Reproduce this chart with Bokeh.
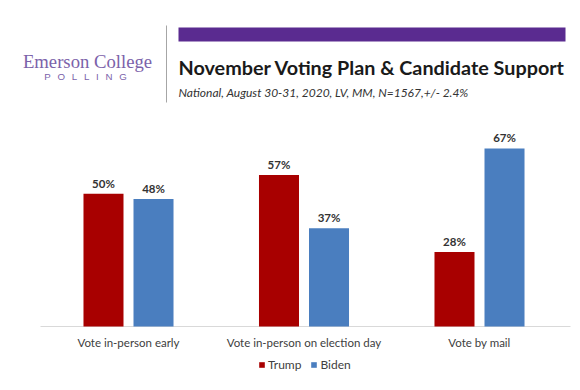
from bokeh.plotting import figure
from bokeh.models import (ColumnDataSource, Range1d, LabelSet, Label,
                          Legend, LegendItem, BoxAnnotation, Arrow)
from bokeh.core.properties import value
from bokeh.embed import file_html
from bokeh.resources import INLINE

# ---- data ----
categories = ["Vote in-person early", "Vote in-person on election day", "Vote by mail"]
trump = [50, 57, 28]
biden = [48, 37, 67]
series_names = ["Trump", "Biden"]

TRUMP_C = "#a80000"
BIDEN_C = "#4a7ebf"
FONT = "Lato"

W, H = 572, 382
GROUP_PX = 175.5      # pixels per category
FIRST_PX = 128        # canvas x of first category centre
PCT_PX = 2.657        # pixels per percentage point
BASE_PX = 326         # canvas y of the baseline

off = 0.1425
bw = 0.228
xc = [i + 0.5 for i in range(len(categories))]

src = ColumnDataSource(dict(
    xc=xc,
    cat=categories,
    zero=[0] * len(categories),
    xt=[x - off for x in xc],
    xb=[x + off for x in xc],
    trump=trump,
    biden=biden,
    trump_lbl=[f"{v}%" for v in trump],
    biden_lbl=[f"{v}%" for v in biden],
))

x0 = 0.5 - FIRST_PX / GROUP_PX
y_top = BASE_PX / PCT_PX
y_bot = -(H - BASE_PX) / PCT_PX
p = figure(width=W, height=H, x_range=Range1d(x0, x0 + W / GROUP_PX),
           y_range=Range1d(y_bot, y_top), toolbar_location=None, output_backend="svg",
           x_axis_location=None, y_axis_location=None, min_border=0)
p.outline_line_color = None
p.xgrid.visible = False
p.ygrid.visible = False
p.background_fill_color = "white"

# pixel-like coordinate system for the header (canvas coords, y down)
p.extra_x_ranges = {"px": Range1d(0, W)}
p.extra_y_ranges = {"px": Range1d(start=H, end=0)}

# ---- header ----
p.add_layout(BoxAnnotation(left=178, right=565, top=27, bottom=41, fill_color="#5a2b90",
                           fill_alpha=1, line_color=None,
                           x_range_name="px", y_range_name="px"))
p.add_layout(Arrow(x_start=166, y_start=25, x_end=166, y_end=102, end=None,
                   line_color="#a6a6a6", line_width=1,
                   x_range_name="px", y_range_name="px"))

p.add_layout(Label(x=87, y=60.5, text="Emerson College", text_align="center",
                   text_baseline="alphabetic", text_font="Liberation Serif",
                   text_font_size="18.7px", text_color="#7b62aa",
                   x_range_name="px", y_range_name="px"))
p.add_layout(Label(x=85, y=75.5,
                   text="P\u2002\u2009O\u2002\u2009L\u2002\u2009L\u2002\u2009I\u2002\u2009N\u2002\u2009G",
                   text_align="center", text_baseline="alphabetic", text_font="Liberation Sans",
                   text_font_size="9.7px", text_color="#7b62aa",
                   x_range_name="px", y_range_name="px"))
p.add_layout(Label(x=178, y=66.5, text="November Voting Plan & Candidate Support",
                   text_align="left", text_baseline="alphabetic", text_font=FONT,
                   text_font_style="bold", text_font_size="19.8px", text_color="#1a1a1a",
                   x_range_name="px", y_range_name="px"))
p.add_layout(Label(x=178, y=91.5, text="National, August 30-31, 2020, LV, MM,  N=1567,+/- 2.4%",
                   text_align="left", text_baseline="alphabetic", text_font=FONT,
                   text_font_style="italic", text_font_size="12px", text_color="#333333",
                   x_range_name="px", y_range_name="px"))

# ---- baseline (category axis line) ----
p.segment(x0=40, x1=570, y0=0, y1=0, line_color="#d9d9d9", line_width=1, x_range_name="px")

# ---- bars ----
r_t = p.vbar(x="xt", top="trump", width=bw, source=src, fill_color=TRUMP_C, line_color=None)
r_b = p.vbar(x="xb", top="biden", width=bw, source=src, fill_color=BIDEN_C, line_color=None)

for xcol, col, lbl in (("xt", "trump", "trump_lbl"), ("xb", "biden", "biden_lbl")):
    p.add_layout(LabelSet(x=xcol, y=col, text=lbl, source=src,
                          text_align="center", text_baseline="bottom", y_offset=4,
                          text_font=value(FONT), text_font_style="bold", text_font_size="11.5px",
                          text_color="#333333"))

# category labels under the baseline
p.add_layout(LabelSet(x="xc", y="zero", text="cat", source=src, text_align="center",
                      text_baseline="middle", y_offset=-16, text_font=value(FONT),
                      text_font_size="11.5px", text_color="#404040"))

legend = Legend(items=[LegendItem(label=series_names[0], renderers=[r_t]),
                       LegendItem(label=series_names[1], renderers=[r_b])],
                orientation="horizontal", location=(258, 10), margin=0, padding=4,
                spacing=9, glyph_width=7, glyph_height=7, label_standoff=3,
                label_text_font=FONT, label_text_font_size="12px", label_text_color="#404040",
                border_line_color=None, background_fill_alpha=0)
p.add_layout(legend)

open("out.html", "w").write(file_html(p, INLINE))
